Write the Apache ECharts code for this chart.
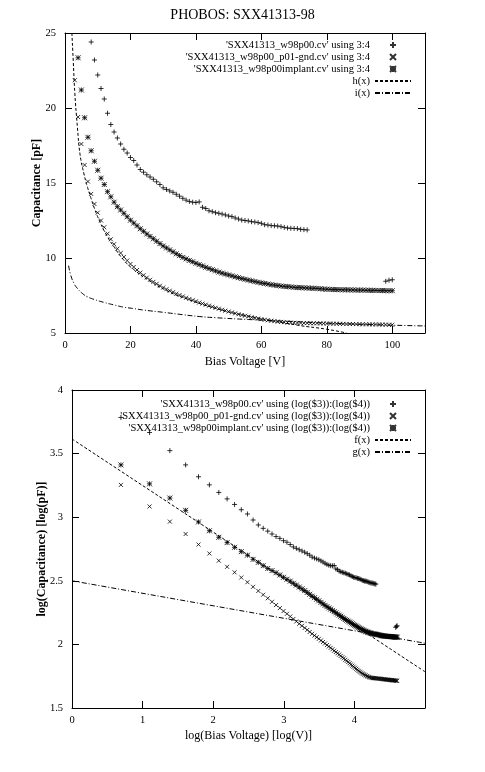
<!DOCTYPE html>
<html>
<head>
    <meta charset="utf-8">
    <title>PHOBOS: SXX41313-98</title>
    <script type="text/javascript" src="https://cdn.jsdelivr.net/npm/echarts@6/dist/echarts.min.js"></script>
    <style>
        body { margin: 0; background: #fff; }
        #main { width: 485px; height: 772px; }
    </style>
</head>
<body>
    <div id="main"></div>
    <script>
        // bias voltage steps of the measurement (V)
        var biasV = [2, 3, 4, 5, 6, 7, 8, 9, 10, 11, 12, 13, 14, 15, 16, 17, 18, 19, 20, 21,
            22, 23, 24, 25, 26, 27, 28, 29, 30, 31, 32, 33, 34, 35, 36, 37, 38, 39, 40, 41,
            42, 43, 44, 45, 46, 47, 48, 49, 50, 51, 52, 53, 54, 55, 56, 57, 58, 59, 60, 61,
            62, 63, 64, 65, 66, 67, 68, 69, 70, 71, 72, 73, 74, 75, 76, 77, 78, 79, 80, 81,
            82, 83, 84, 85, 86, 87, 88, 89, 90, 91, 92, 93, 94, 95, 96, 97, 98, 99, 100];

        // 'SXX41313_w98p00.cv' : 2..74 V, then 98..100 V
        var plusV = [2, 3, 4, 5, 6, 7, 8, 9, 10, 11, 12, 13, 14, 15, 16, 17, 18, 19, 20, 21,
            22, 23, 24, 25, 26, 27, 28, 29, 30, 31, 32, 33, 34, 35, 36, 37, 38, 39, 40, 41,
            42, 43, 44, 45, 46, 47, 48, 49, 50, 51, 52, 53, 54, 55, 56, 57, 58, 59, 60, 61,
            62, 63, 64, 65, 66, 67, 68, 69, 70, 71, 72, 73, 74, 98, 99, 100];
        var capPlus = [44.0, 39.1, 33.9, 30.3, 27.6, 25.9, 24.4, 23.2, 22.2, 21.3,
            20.6, 19.65, 18.9, 18.4, 18.0, 17.6, 17.25, 17.0, 16.7, 16.5,
            16.2, 15.9, 15.72, 15.55, 15.4, 15.25, 15.08, 14.9, 14.68, 14.57,
            14.47, 14.38, 14.25, 14.12, 13.98, 13.86, 13.77, 13.72, 13.7, 13.74,
            13.38, 13.3, 13.15, 13.09, 13.02, 12.98, 12.93, 12.87, 12.8, 12.76,
            12.67, 12.6, 12.53, 12.5, 12.47, 12.42, 12.4, 12.36, 12.31, 12.22,
            12.2, 12.16, 12.15, 12.13, 12.09, 12.04, 12.0, 11.98, 11.97, 11.96,
            11.91, 11.89, 11.87, 8.45, 8.52, 8.55];

        // 'SXX41313_w98p00_p01-gnd.cv' (x marks), one value per biasV
        var capGnd = [25.9, 21.85, 19.4, 17.6, 16.2, 15.1, 14.27, 13.6, 13.02, 12.5,
            12.05, 11.62, 11.25, 10.92, 10.62, 10.33, 10.07, 9.83, 9.6, 9.4,
            9.2, 9.02, 8.85, 8.69, 8.55, 8.41, 8.28, 8.15, 8.03, 7.92,
            7.82, 7.72, 7.62, 7.53, 7.44, 7.35, 7.27, 7.19, 7.11, 7.03,
            6.96, 6.89, 6.82, 6.75, 6.68, 6.62, 6.55, 6.49, 6.43, 6.37,
            6.31, 6.25, 6.2, 6.15, 6.1, 6.05, 6.0, 5.96, 5.92, 5.88,
            5.85, 5.82, 5.79, 5.76, 5.74, 5.72, 5.7, 5.69, 5.68, 5.67,
            5.67, 5.66, 5.66, 5.65, 5.65, 5.65, 5.64, 5.64, 5.63, 5.63,
            5.62, 5.62, 5.61, 5.61, 5.6, 5.6, 5.6, 5.59, 5.59, 5.58,
            5.58, 5.58, 5.57, 5.57, 5.57, 5.56, 5.56, 5.55, 5.55];

        // 'SXX41313_w98p00implant.cv' (* marks), one value per biasV
        var capImplant = [30.3, 26.1, 23.35, 21.2, 19.35, 18.05, 17.15, 16.45, 15.85, 15.32,
            14.9, 14.42, 14.08, 13.72, 13.42, 13.2, 12.98, 12.75, 12.52, 12.33,
            12.15, 11.95, 11.78, 11.6, 11.44, 11.28, 11.12, 10.96, 10.8, 10.67,
            10.54, 10.41, 10.28, 10.16, 10.04, 9.94, 9.84, 9.75, 9.65, 9.56,
            9.47, 9.38, 9.3, 9.22, 9.14, 9.06, 8.99, 8.93, 8.87, 8.81,
            8.75, 8.69, 8.63, 8.58, 8.53, 8.48, 8.43, 8.38, 8.34, 8.3,
            8.26, 8.22, 8.19, 8.16, 8.13, 8.11, 8.09, 8.07, 8.05, 8.03,
            8.02, 8.01, 8.0, 7.99, 7.98, 7.97, 7.95, 7.93, 7.92, 7.91,
            7.9, 7.89, 7.89, 7.88, 7.88, 7.87, 7.87, 7.86, 7.86, 7.86,
            7.85, 7.85, 7.84, 7.84, 7.83, 7.83, 7.82, 7.82, 7.82];

        // fitted curves
        var hV = [2.1, 2.55, 3.0, 3.8, 4.6, 5.8, 6.9, 8.0, 9.0, 10.7, 12.75, 14.8, 17.8, 20.9,
            26, 31.1, 36.2, 46.4, 56.6, 70.8, 80, 86];
        var hC = [25, 23.0, 21.0, 18.7, 16.9, 15.6, 14.7, 13.95, 13.3, 12.4, 11.5, 10.8, 9.9, 9.25,
            8.45, 7.82, 7.35, 6.62, 6.1, 5.53, 5.25, 5.0];
        var iV = [1.1, 1.73, 2.75, 3.76, 5.3, 6.8, 8.9, 11.9, 15, 18, 21, 24, 30, 36, 41, 46,
            56, 71, 81, 95, 110];
        var iC = [9.49, 8.87, 8.31, 7.98, 7.64, 7.42, 7.24, 7.04, 6.87, 6.72, 6.63, 6.53, 6.38, 6.22, 6.1, 6.02,
            5.9, 5.75, 5.65, 5.55, 5.47];

        // straight fits in the log-log plot (end points)
        var fLogV = [0, 5];
        var fLogC = [3.615, 1.785];
        var gLogV = [0, 5];
        var gLogC = [2.50, 2.009];

        var serif = "'Liberation Serif', 'DejaVu Serif', serif";
        var plusSym = 'path://M0,3L6,3M3,0L3,6';
        var crossSym = 'path://M0,0L6,6M6,0L0,6';
        var starSym = 'path://M0,0L6,6M6,0L0,6M0,3L6,3M3,0L3,6';

        function pairs(xs, ys) {
            return xs.map(function (x, k) { return [x, ys[k]]; });
        }
        function logPairs(xs, ys) {
            return xs.map(function (x, k) { return [Math.log(x), Math.log(ys[k])]; });
        }

        var nPlus = "'SXX41313_w98p00.cv' using 3:4";
        var nGnd = "'SXX41313_w98p00_p01-gnd.cv' using 3:4";
        var nImp = "'SXX41313_w98p00implant.cv' using 3:4";
        var lPlus = "'SXX41313_w98p00.cv' using (log($3)):(log($4))";
        var lGnd = "'SXX41313_w98p00_p01-gnd.cv' using (log($3)):(log($4))";
        var lImp = "'SXX41313_w98p00implant.cv' using (log($3)):(log($4))";

        function axis(grid, pos, min, max, step, main, name, gap) {
            var horiz = pos === 'bottom' || pos === 'top';
            return {
                type: 'value', gridIndex: grid, position: pos,
                min: min, max: max, interval: step,
                name: main ? name : '', nameLocation: 'middle', nameGap: gap,
                nameMoveOverlap: false,
                nameTextStyle: {
                    fontFamily: serif, fontSize: 12, color: '#000',
                    fontWeight: horiz ? 'normal' : 'bold'
                },
                axisLine: { show: true, onZero: false, lineStyle: { color: '#000', width: 1 } },
                axisTick: { show: true, inside: true, length: 7, lineStyle: { color: '#000', width: 1 } },
                axisLabel: {
                    show: main, margin: horiz ? 7 : 9, fontFamily: serif, fontSize: 10.5, color: '#000',
                    showMaxLabel: horiz ? false : true, hideOverlap: false
                },
                splitLine: { show: false },
                minorTick: { show: false }
            };
        }

        function key(names, top) {
            return {
                data: names, orient: 'vertical', align: 'right',
                right: 73, top: top, padding: 0,
                itemWidth: 36, itemHeight: 6, itemGap: 1,
                selectedMode: false,
                textStyle: { fontFamily: serif, fontSize: 10.5, color: '#000', lineHeight: 11 }
            };
        }

        function pts(name, data, sym, size, xi) {
            return {
                name: name, type: 'scatter', xAxisIndex: xi, yAxisIndex: xi,
                data: data, symbol: sym, symbolSize: size, clip: true,
                itemStyle: { color: 'rgba(0,0,0,0)', borderColor: '#000', borderWidth: 1 },
                emphasis: { disabled: true }
            };
        }

        function curve(name, data, dash, xi) {
            return {
                name: name, type: 'line', xAxisIndex: xi, yAxisIndex: xi,
                data: data, symbol: 'circle', showSymbol: false, smooth: true, clip: true,
                lineStyle: { color: '#000', width: 1, type: dash },
                // no marker in the key, only the line sample
                itemStyle: { color: 'rgba(0,0,0,0)', borderColor: 'rgba(0,0,0,0)', borderWidth: 0 },
                emphasis: { disabled: true }
            };
        }

        var chartDom = document.getElementById('main');
        var myChart = echarts.init(chartDom, null, { renderer: 'canvas' });
        var option;

        option = {
            animation: false,
            backgroundColor: '#fff',
            textStyle: { fontFamily: serif, color: '#000' },
            title: {
                text: 'PHOBOS: SXX41313-98', left: 'center', top: 8, padding: 0,
                textStyle: { fontFamily: serif, fontSize: 14, fontWeight: 'normal', color: '#000' }
            },
            legend: [
                key([nPlus, nGnd, nImp, 'h(x)', 'i(x)'], 39.5),
                key([lPlus, lGnd, lImp, 'f(x)', 'g(x)'], 398.5)
            ],
            grid: [
                { left: 65, top: 33, width: 360, height: 300, outerBoundsMode: 'none' },
                { left: 72, top: 390, width: 353, height: 318, outerBoundsMode: 'none' }
            ],
            xAxis: [
                axis(0, 'bottom', 0, 110, 20, true, 'Bias Voltage [V]', 23),
                axis(0, 'top', 0, 110, 20, false, '', 0),
                axis(1, 'bottom', 0, 5, 1, true, 'log(Bias Voltage) [log(V)]', 22),
                axis(1, 'top', 0, 5, 1, false, '', 0)
            ],
            yAxis: [
                axis(0, 'left', 5, 25, 5, true, 'Capacitance [pF]', 22),
                axis(0, 'right', 5, 25, 5, false, '', 0),
                axis(1, 'left', 1.5, 4, 0.5, true, 'log(Capacitance) [log(pF)]', 24),
                axis(1, 'right', 1.5, 4, 0.5, false, '', 0)
            ],
            series: [
                pts(nPlus, pairs(plusV, capPlus), plusSym, 5, 0),
                pts(nGnd, pairs(biasV, capGnd), crossSym, 4, 0),
                pts(nImp, pairs(biasV, capImplant), starSym, 5, 0),
                curve('h(x)', pairs(hV, hC), [3, 2], 0),
                curve('i(x)', pairs(iV, iC), [5, 2, 1, 2], 0),
                pts(lPlus, logPairs(plusV, capPlus), plusSym, 5, 2),
                pts(lGnd, logPairs(biasV, capGnd), crossSym, 4, 2),
                pts(lImp, logPairs(biasV, capImplant), starSym, 5, 2),
                curve('f(x)', pairs(fLogV, fLogC), [3, 2], 2),
                curve('g(x)', pairs(gLogV, gLogC), [5, 2, 1, 2], 2)
            ]
        };

        option && myChart.setOption(option);
    </script>
</body>
</html>
